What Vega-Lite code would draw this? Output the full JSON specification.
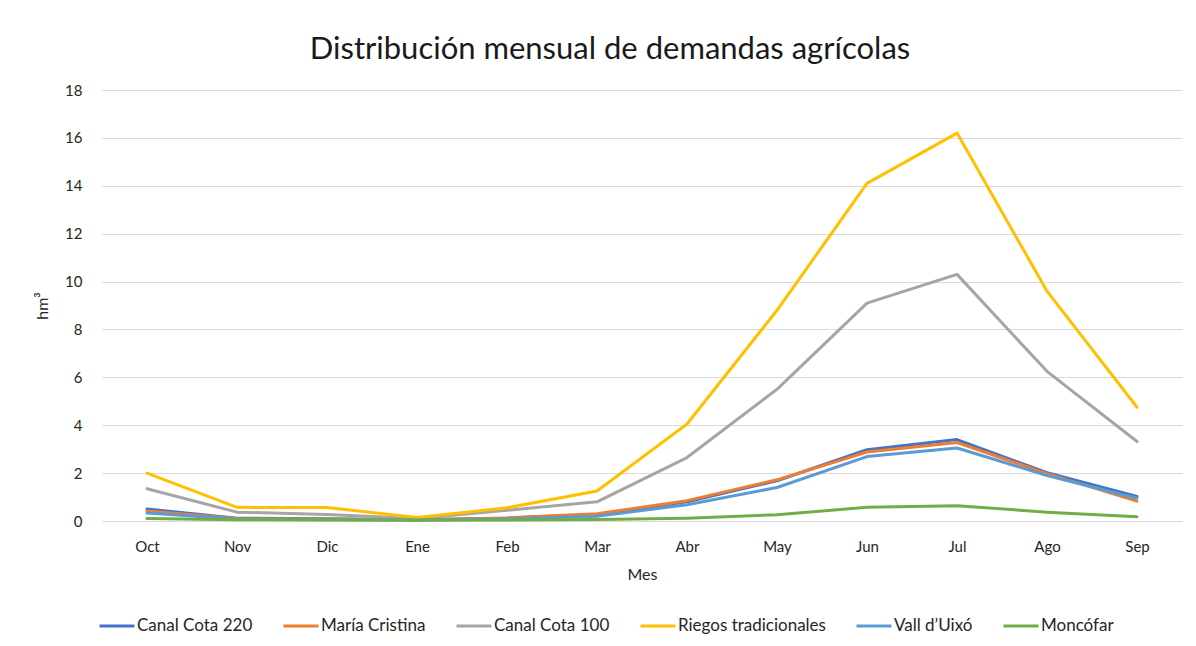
{
  "$schema": "https://vega.github.io/schema/vega-lite/v6.json",
  "width": 1080,
  "height": 431,
  "autosize": {"type": "none"},
  "padding": {"left": 102, "top": 90, "right": 14, "bottom": 125},
  "background": "white",
  "title": {
    "text": "Distribución mensual de demandas agrícolas",
    "font": "Lato",
    "fontSize": 31,
    "fontWeight": "normal",
    "color": "#1a1a1a",
    "anchor": "middle",
    "dx": -32,
    "offset": 17
  },
  "data": {
    "values": [
      {"mes": "Oct", "serie": "Canal Cota 220", "v": 0.5},
      {"mes": "Nov", "serie": "Canal Cota 220", "v": 0.12},
      {"mes": "Dic", "serie": "Canal Cota 220", "v": 0.09},
      {"mes": "Ene", "serie": "Canal Cota 220", "v": 0.05},
      {"mes": "Feb", "serie": "Canal Cota 220", "v": 0.12},
      {"mes": "Mar", "serie": "Canal Cota 220", "v": 0.27},
      {"mes": "Abr", "serie": "Canal Cota 220", "v": 0.8},
      {"mes": "May", "serie": "Canal Cota 220", "v": 1.68},
      {"mes": "Jun", "serie": "Canal Cota 220", "v": 2.98},
      {"mes": "Jul", "serie": "Canal Cota 220", "v": 3.4},
      {"mes": "Ago", "serie": "Canal Cota 220", "v": 2.02},
      {"mes": "Sep", "serie": "Canal Cota 220", "v": 1.03},
      {"mes": "Oct", "serie": "María Cristina", "v": 0.42},
      {"mes": "Nov", "serie": "María Cristina", "v": 0.1},
      {"mes": "Dic", "serie": "María Cristina", "v": 0.08},
      {"mes": "Ene", "serie": "María Cristina", "v": 0.05},
      {"mes": "Feb", "serie": "María Cristina", "v": 0.13},
      {"mes": "Mar", "serie": "María Cristina", "v": 0.3},
      {"mes": "Abr", "serie": "María Cristina", "v": 0.85},
      {"mes": "May", "serie": "María Cristina", "v": 1.72},
      {"mes": "Jun", "serie": "María Cristina", "v": 2.88},
      {"mes": "Jul", "serie": "María Cristina", "v": 3.28},
      {"mes": "Ago", "serie": "María Cristina", "v": 1.98},
      {"mes": "Sep", "serie": "María Cristina", "v": 0.83},
      {"mes": "Oct", "serie": "Canal Cota 100", "v": 1.35},
      {"mes": "Nov", "serie": "Canal Cota 100", "v": 0.37},
      {"mes": "Dic", "serie": "Canal Cota 100", "v": 0.27},
      {"mes": "Ene", "serie": "Canal Cota 100", "v": 0.1},
      {"mes": "Feb", "serie": "Canal Cota 100", "v": 0.45},
      {"mes": "Mar", "serie": "Canal Cota 100", "v": 0.8},
      {"mes": "Abr", "serie": "Canal Cota 100", "v": 2.65},
      {"mes": "May", "serie": "Canal Cota 100", "v": 5.5},
      {"mes": "Jun", "serie": "Canal Cota 100", "v": 9.1},
      {"mes": "Jul", "serie": "Canal Cota 100", "v": 10.3},
      {"mes": "Ago", "serie": "Canal Cota 100", "v": 6.25},
      {"mes": "Sep", "serie": "Canal Cota 100", "v": 3.32},
      {"mes": "Oct", "serie": "Riegos tradicionales", "v": 2.0},
      {"mes": "Nov", "serie": "Riegos tradicionales", "v": 0.57},
      {"mes": "Dic", "serie": "Riegos tradicionales", "v": 0.56},
      {"mes": "Ene", "serie": "Riegos tradicionales", "v": 0.15},
      {"mes": "Feb", "serie": "Riegos tradicionales", "v": 0.55},
      {"mes": "Mar", "serie": "Riegos tradicionales", "v": 1.25},
      {"mes": "Abr", "serie": "Riegos tradicionales", "v": 4.05},
      {"mes": "May", "serie": "Riegos tradicionales", "v": 8.8},
      {"mes": "Jun", "serie": "Riegos tradicionales", "v": 14.1},
      {"mes": "Jul", "serie": "Riegos tradicionales", "v": 16.2},
      {"mes": "Ago", "serie": "Riegos tradicionales", "v": 9.6},
      {"mes": "Sep", "serie": "Riegos tradicionales", "v": 4.75},
      {"mes": "Oct", "serie": "Vall d’Uixó", "v": 0.33},
      {"mes": "Nov", "serie": "Vall d’Uixó", "v": 0.08},
      {"mes": "Dic", "serie": "Vall d’Uixó", "v": 0.06},
      {"mes": "Ene", "serie": "Vall d’Uixó", "v": 0.04},
      {"mes": "Feb", "serie": "Vall d’Uixó", "v": 0.08},
      {"mes": "Mar", "serie": "Vall d’Uixó", "v": 0.2},
      {"mes": "Abr", "serie": "Vall d’Uixó", "v": 0.68},
      {"mes": "May", "serie": "Vall d’Uixó", "v": 1.4},
      {"mes": "Jun", "serie": "Vall d’Uixó", "v": 2.69},
      {"mes": "Jul", "serie": "Vall d’Uixó", "v": 3.05},
      {"mes": "Ago", "serie": "Vall d’Uixó", "v": 1.9},
      {"mes": "Sep", "serie": "Vall d’Uixó", "v": 0.95},
      {"mes": "Oct", "serie": "Moncófar", "v": 0.1},
      {"mes": "Nov", "serie": "Moncófar", "v": 0.05},
      {"mes": "Dic", "serie": "Moncófar", "v": 0.04},
      {"mes": "Ene", "serie": "Moncófar", "v": 0.03},
      {"mes": "Feb", "serie": "Moncófar", "v": 0.04},
      {"mes": "Mar", "serie": "Moncófar", "v": 0.06},
      {"mes": "Abr", "serie": "Moncófar", "v": 0.12},
      {"mes": "May", "serie": "Moncófar", "v": 0.26},
      {"mes": "Jun", "serie": "Moncófar", "v": 0.57},
      {"mes": "Jul", "serie": "Moncófar", "v": 0.64},
      {"mes": "Ago", "serie": "Moncófar", "v": 0.37},
      {"mes": "Sep", "serie": "Moncófar", "v": 0.18}
    ]
  },
  "mark": {"type": "line", "strokeWidth": 3, "strokeCap": "round", "strokeJoin": "round"},
  "encoding": {
    "x": {
      "field": "mes",
      "type": "ordinal",
      "sort": ["Oct", "Nov", "Dic", "Ene", "Feb", "Mar", "Abr", "May", "Jun", "Jul", "Ago", "Sep"],
      "scale": {"type": "point", "padding": 0.5},
      "axis": {
        "title": "Mes",
        "labelAngle": 0,
        "ticks": false,
        "domainColor": "#d9d9d9",
        "domainWidth": 1,
        "labelPadding": 18,
        "titlePadding": 12
      }
    },
    "y": {
      "field": "v",
      "type": "quantitative",
      "scale": {"domain": [0, 18], "nice": false},
      "axis": {
        "title": "hm³",
        "values": [0, 2, 4, 6, 8, 10, 12, 14, 16, 18],
        "ticks": false,
        "domain": false,
        "gridColor": "#d9d9d9",
        "labelPadding": 20,
        "titlePadding": 14
      }
    },
    "color": {
      "field": "serie",
      "type": "nominal",
      "scale": {
        "domain": ["Canal Cota 220", "María Cristina", "Canal Cota 100", "Riegos tradicionales", "Vall d’Uixó", "Moncófar"],
        "range": ["#4472C4", "#ED7D31", "#A5A5A5", "#FFC000", "#5B9BD5", "#70AD47"]
      },
      "legend": {
        "title": null,
        "orient": "none",
        "direction": "horizontal",
        "legendX": -4,
        "legendY": 517,
        "symbolType": "stroke",
        "symbolSize": 1225,
        "symbolStrokeWidth": 3,
        "columnPadding": 24,
        "labelOffset": 1
      }
    },
    "order": {"field": "serie"}
  },
  "config": {
    "font": "Lato",
    "view": {"stroke": null},
    "axis": {
      "labelFont": "Lato",
      "titleFont": "Lato",
      "labelFontSize": 15,
      "titleFontSize": 16,
      "titleFontWeight": "normal",
      "labelColor": "#262626",
      "titleColor": "#262626"
    },
    "legend": {
      "labelFont": "Lato",
      "labelFontSize": 17,
      "labelColor": "#262626"
    }
  }
}
